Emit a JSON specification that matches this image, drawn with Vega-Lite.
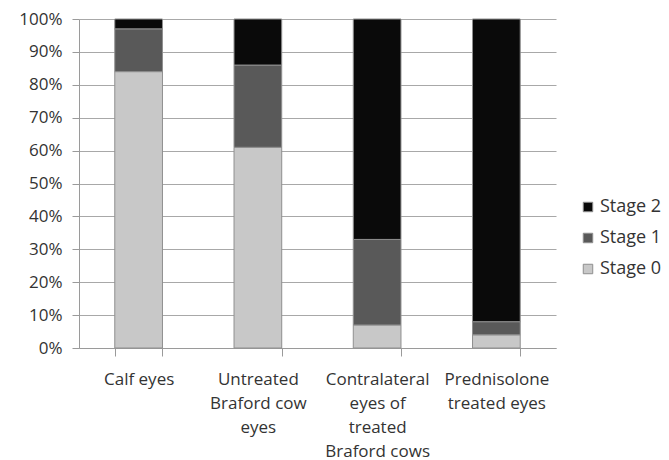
{
  "$schema": "https://vega.github.io/schema/vega-lite/v6.json",
  "width": 477,
  "height": 329,
  "autosize": "none",
  "padding": {"left": 79, "top": 19, "right": 113, "bottom": 112},
  "background": "white",
  "data": {
    "values": [
      {"group": "Calf eyes", "stage": "Stage 0", "rank": 0, "pct": 84},
      {"group": "Calf eyes", "stage": "Stage 1", "rank": 1, "pct": 13},
      {"group": "Calf eyes", "stage": "Stage 2", "rank": 2, "pct": 3},
      {"group": "Untreated|Braford cow|eyes", "stage": "Stage 0", "rank": 0, "pct": 61},
      {"group": "Untreated|Braford cow|eyes", "stage": "Stage 1", "rank": 1, "pct": 25},
      {"group": "Untreated|Braford cow|eyes", "stage": "Stage 2", "rank": 2, "pct": 14},
      {"group": "Contralateral|eyes of|treated|Braford cows", "stage": "Stage 0", "rank": 0, "pct": 7},
      {"group": "Contralateral|eyes of|treated|Braford cows", "stage": "Stage 1", "rank": 1, "pct": 26},
      {"group": "Contralateral|eyes of|treated|Braford cows", "stage": "Stage 2", "rank": 2, "pct": 67},
      {"group": "Prednisolone|treated eyes", "stage": "Stage 0", "rank": 0, "pct": 4},
      {"group": "Prednisolone|treated eyes", "stage": "Stage 1", "rank": 1, "pct": 4},
      {"group": "Prednisolone|treated eyes", "stage": "Stage 2", "rank": 2, "pct": 92}
    ]
  },
  "mark": {"type": "bar", "stroke": "#8f8f8f", "strokeWidth": 1},
  "encoding": {
    "x": {
      "field": "group",
      "type": "nominal",
      "sort": null,
      "scale": {"paddingInner": 0.6, "paddingOuter": 0.3},
      "axis": {
        "title": null,
        "labelAngle": 0,
        "labelExpr": "split(datum.label, '|')",
        "labelFont": "Open Sans",
        "labelFontSize": 17,
        "labelColor": "#333333",
        "labelLineHeight": 24,
        "labelPadding": 15,
        "labelLimit": 200,
        "tickBand": "extent",
        "tickSize": 8,
        "tickColor": "#9a9a9a",
        "domainColor": "#9a9a9a",
        "grid": false
      }
    },
    "y": {
      "field": "pct",
      "type": "quantitative",
      "stack": "zero",
      "scale": {"domain": [0, 100]},
      "axis": {
        "title": null,
        "values": [0, 10, 20, 30, 40, 50, 60, 70, 80, 90, 100],
        "labelExpr": "datum.value + '%'",
        "labelFont": "Open Sans",
        "labelFontSize": 17,
        "labelColor": "#333333",
        "labelPadding": 10,
        "tickSize": 7,
        "tickColor": "#9a9a9a",
        "domainColor": "#9a9a9a",
        "grid": true,
        "gridColor": "#a8a8a8",
        "gridWidth": 1.2
      }
    },
    "color": {
      "field": "stage",
      "type": "nominal",
      "scale": {
        "domain": ["Stage 2", "Stage 1", "Stage 0"],
        "range": ["#0a0a0a", "#595959", "#c8c8c8"]
      },
      "legend": {
        "title": null,
        "orient": "none",
        "legendX": 500,
        "legendY": 179,
        "symbolType": "square",
        "symbolSize": 90,
        "symbolStrokeColor": "#8f8f8f",
        "symbolStrokeWidth": 1,
        "labelFont": "Open Sans",
        "labelFontSize": 18,
        "labelColor": "#333333",
        "rowPadding": 13,
        "labelOffset": 3
      }
    },
    "order": {"field": "rank", "type": "quantitative", "sort": "ascending"}
  },
  "config": {"view": {"stroke": null}}
}
